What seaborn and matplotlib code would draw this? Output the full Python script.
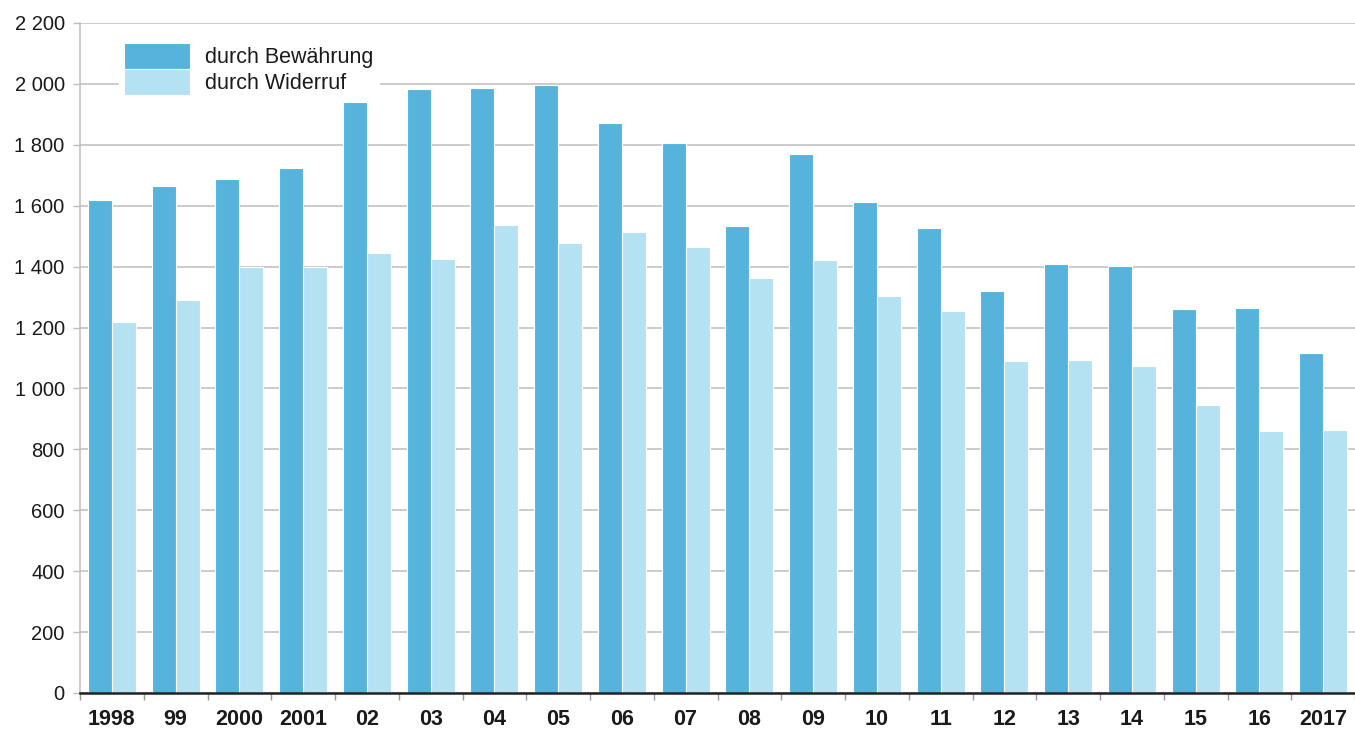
import pandas as pd
import matplotlib
matplotlib.use("Agg")
import matplotlib.pyplot as plt
from matplotlib.patches import Patch
from matplotlib.ticker import FuncFormatter, FixedLocator, MultipleLocator
import seaborn as sns

years = ["1998", "99", "2000", "2001", "02", "03", "04", "05", "06", "07",
         "08", "09", "10", "11", "12", "13", "14", "15", "16", "2017"]
bewaehrung = [1619, 1665, 1688, 1723, 1939, 1982, 1985, 1998, 1872, 1807,
              1532, 1771, 1612, 1526, 1319, 1408, 1401, 1260, 1264, 1115]
widerruf = [1219, 1289, 1398, 1400, 1445, 1424, 1538, 1478, 1515, 1466,
            1364, 1423, 1304, 1255, 1089, 1093, 1074, 945, 859, 862]
series = ["durch Bewährung", "durch Widerruf"]
colors = ["#55b3dc", "#b4e2f2"]

df = pd.DataFrame({
    "jahr": years * 2,
    "serie": [series[0]] * len(years) + [series[1]] * len(years),
    "wert": bewaehrung + widerruf,
})

sns.set_style("white")
plt.rcParams["font.family"] = ["Liberation Sans", "DejaVu Sans"]

fig = plt.figure(figsize=(13.55, 7.29), dpi=100)
ax = fig.add_axes([80 / 1355, 36 / 729, 1275 / 1355, 670 / 729])

sns.barplot(data=df, x="jahr", y="wert", hue="serie", hue_order=series,
            palette=colors, width=0.75, gap=0, edgecolor="white",
            linewidth=0.8, saturation=1, legend=False, ax=ax)

ax.set_xlim(-0.5, len(years) - 0.5)
ax.set_ylim(0, 2200)
ax.yaxis.set_major_locator(MultipleLocator(200))
ax.yaxis.set_major_formatter(FuncFormatter(lambda v, p: f"{int(v):,}".replace(",", " ")))
ax.set_xlabel("")
ax.set_ylabel("")

# gridlines
ax.set_axisbelow(True)
ax.yaxis.grid(True, color="#bdbdbd", linewidth=1.1)
ax.xaxis.grid(False)

# spines
sns.despine(ax=ax, top=True, right=True)
ax.spines["left"].set_color("#bdbdbd")
ax.spines["left"].set_linewidth(1.1)
ax.spines["bottom"].set_color("#222222")
ax.spines["bottom"].set_linewidth(1.8)

# ticks
ax.tick_params(axis="x", which="major", length=0, pad=11.5, labelsize=15.5,
               labelcolor="#1a1a1a")
for lbl in ax.get_xticklabels():
    lbl.set_fontweight("bold")
ax.xaxis.set_minor_locator(FixedLocator([i - 0.5 for i in range(len(years) + 1)]))
ax.tick_params(axis="x", which="minor", length=5, width=1, color="#999999",
               direction="out", bottom=True)
ax.tick_params(axis="y", length=5, width=1, color="#bdbdbd", pad=6,
               labelsize=14.5, labelcolor="#1a1a1a", left=True)

handles = [Patch(facecolor=c, edgecolor="white", linewidth=0.8) for c in colors]
leg = ax.legend(handles, series, loc="upper left",
                bbox_to_anchor=(0.0303, 0.978), borderaxespad=0,
                fontsize=15.5, handlelength=3.07, handleheight=1.48,
                labelspacing=0, handletextpad=0.7, borderpad=0.25,
                frameon=True, fancybox=False)
leg.get_frame().set_facecolor("white")
leg.get_frame().set_edgecolor("white")
leg.get_frame().set_alpha(1)
for t in leg.get_texts():
    t.set_color("#1a1a1a")

fig.savefig("out.png", dpi=100)
